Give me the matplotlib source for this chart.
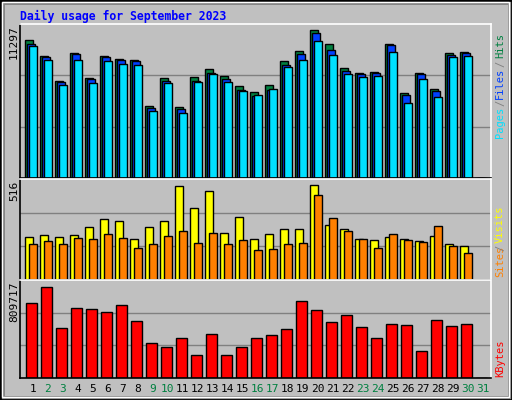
import matplotlib
matplotlib.use('Agg')
import matplotlib.pyplot as plt
from matplotlib.patches import Rectangle

days = list(range(1, 32))
hits = [10531, 9304, 7412, 9534, 7617, 9304, 9074, 8997, 5470, 7617, 5393, 7694, 8307, 7770, 7003,
        6543, 7080, 8920, 9687, 11297, 10224, 8384, 8000, 8077, 10224, 6467, 8000, 6773, 9534, 9611, 0]
files = [10173, 9227, 7310, 9457, 7515, 9227, 8997, 8920, 5368, 7387, 5240, 7387, 8000, 7540, 6697,
         6211, 6697, 8614, 9457, 11067, 9764, 8154, 7924, 8000, 10147, 6313, 7924, 6620, 9380, 9534, 0]
pages = [10071, 8997, 7080, 8997, 7233, 8920, 8690, 8614, 5086, 7233, 4933, 7310, 7924, 7310, 6620,
         6313, 6773, 8460, 8997, 10454, 9380, 7924, 7694, 7770, 9611, 5700, 7540, 6160, 9227, 9304, 0]
visits = [236, 247, 236, 247, 286, 331, 320, 224, 286, 320, 511, 393, 482, 258, 342,
          224, 252, 280, 280, 516, 297, 280, 224, 219, 236, 224, 213, 241, 196, 185, 0]
sites = [196, 213, 196, 230, 224, 252, 230, 174, 196, 241, 269, 202, 258, 196, 219,
         163, 168, 196, 202, 460, 337, 264, 224, 174, 252, 219, 208, 292, 185, 146, 0]
kbytes = [667350, 809717, 444900, 622860, 613960, 587270, 649550, 507190, 311430, 275840,
          355920, 204650, 391510, 204650, 275840, 355920, 382610, 436000, 685150, 605060,
          498290, 560570, 453800, 355920, 480490, 471590, 240250, 516080, 462700, 480490, 0]
weekend = [2, 3, 9, 10, 16, 17, 23, 24, 30, 31]

BG = '#C0C0C0'
fig = plt.figure(figsize=(5.12, 4.0), dpi=100, facecolor=BG)

# outer bevel
fig.patches.append(Rectangle((0, 0), 1, 1, transform=fig.transFigure, fill=False, ec='black', lw=2))
fig.patches.append(Rectangle((0.006, 0.008), 0.988, 0.984, transform=fig.transFigure, fill=False, ec='#808080', lw=2))
fig.patches.append(Rectangle((0.004, 0.008), 0.99, 0.986, transform=fig.transFigure, fill=False, ec='white', lw=1))

fig.text(20 / 512, 1 - 16 / 400, 'Daily usage for September 2023', color='#0000FF',
         family='DejaVu Sans Mono', weight='bold', fontsize=8.3, va='center')

x0, xw = 20 / 512, 471 / 512
ax1 = fig.add_axes([x0, 0.555, xw, 0.385])
ax2 = fig.add_axes([x0, 0.30, xw, 0.2525])
ax3 = fig.add_axes([x0, 0.055, xw, 0.245])

kw = dict(edgecolor='black', linewidth=1, align='edge')
ax1.bar([d - 0.38 for d in days], hits, width=0.49, color='#008040', **kw)
ax1.bar([d - 0.24 for d in days], files, width=0.49, color='#0040FF', **kw)
ax1.bar([d - 0.11 for d in days], pages, width=0.49, color='#00E0FF', **kw)
ax2.bar([d - 0.38 for d in days], visits, width=0.53, color='#FFFF00', **kw)
ax2.bar([d - 0.11 for d in days], sites, width=0.49, color='#FF8000', **kw)
ax3.bar([d - 0.31 for d in days], kbytes, width=0.69, color='#FF0000', **kw)

for ax, top in [(ax1, max(hits) / 0.963), (ax2, max(visits) / 0.939), (ax3, max(kbytes) / 0.929)]:
    ax.set_facecolor(BG)
    ax.set_xlim(0.267, 31.67)
    ax.set_ylim(0, top)
    for g in (top / 3, 2 * top / 3):
        ax.axhline(g, color='#808080', lw=1, zorder=0)
    ax.set_xticks([])
    ax.set_yticks([])
    for s in ('left', 'bottom'):
        ax.spines[s].set_color('black')
    for s in ('right', 'top'):
        ax.spines[s].set_color('white')
    for s in ax.spines.values():
        s.set_linewidth(1.2)

mono = dict(family='DejaVu Sans Mono', fontsize=8)
fig.text(14 / 512, 1 - 25 / 400, '11297', rotation=90, va='top', ha='center', **mono)
fig.text(14 / 512, 1 - 181 / 400, '516', rotation=90, va='top', ha='center', **mono)
fig.text(14 / 512, 1 - 282 / 400, '809717', rotation=90, va='top', ha='center', **mono)

for d in days:
    ax3.text(d + 0.13, -0.06, str(d), transform=ax3.get_xaxis_transform(), ha='center', va='top',
             color='#008040' if d in weekend else 'black', **mono)

rx = 500 / 512
rmono = dict(family='DejaVu Sans Mono', fontsize=7.5)
def rlabel(txt, y_bottom, color):
    fig.text(rx, 1 - y_bottom / 400, txt, rotation=90, ha='center', va='bottom', color=color, **rmono)

rlabel('Pages', 138, '#00E0FF')
rlabel('/', 106, '#808080')
rlabel('Files', 99, '#0040FF')
rlabel('/', 67, '#808080')
rlabel('Hits', 58, '#008040')
rlabel('Sites', 277, '#FF8000')
rlabel('/', 251, '#808080')
rlabel('Visits', 243, '#FFFF00')
rlabel('KBytes', 377, '#FF0000')

fig.savefig('out.png', dpi=100, facecolor=BG)
